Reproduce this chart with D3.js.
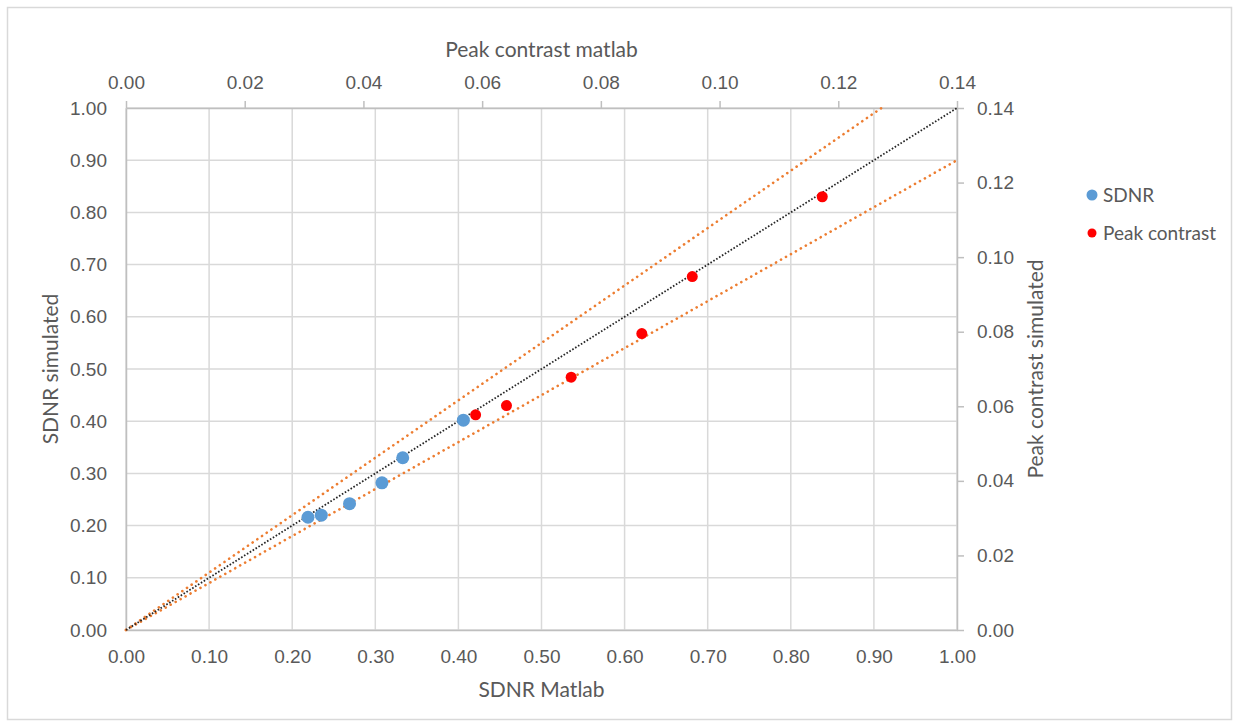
<!DOCTYPE html>
<html>
<head>
<meta charset="utf-8">
<script src="https://cdnjs.cloudflare.com/ajax/libs/d3/7.8.5/d3.min.js"></script>
<style>
    body { margin: 0; background: #fff; }
    svg { font-family: Lato, "Open Sans", sans-serif; }
    .tick text { fill: #595959; font-size: 19px; }
    .title { fill: #595959; font-size: 21px; }
    .legend text { fill: #595959; font-size: 19px; }
</style>
</head>
<body>
<div id="chart"></div>
<script>
// values
var sdnrMatlab    = [0.219, 0.235, 0.269, 0.308, 0.333, 0.406];
var sdnrSimulated = [0.216, 0.220, 0.242, 0.282, 0.330, 0.402];

var peakMatlab    = [0.0589, 0.0641, 0.0750, 0.0869, 0.0954, 0.1173];
var peakSimulated = [0.0577, 0.0602, 0.0678, 0.0795, 0.0948, 0.1162];

// identity line and the +/-10% band (slopes on the SDNR axes)
var identitySlope = [1];
var bandSlopes = [1.1, 0.9];

var primaryTicks = d3.range(0, 1.0001, 0.1);
var secondaryTicks = d3.range(0, 0.14001, 0.02);

var W = 1239, H = 727;
var margin = {top: 108, right: 282, bottom: 97, left: 126};
var width = W - margin.left - margin.right,
    height = H - margin.top - margin.bottom;

var svg = d3.select("#chart").append("svg")
    .attr("width", W)
    .attr("height", H);

// chart border
svg.append("rect")
    .attr("x", 7.5).attr("y", 7.5)
    .attr("width", W - 15).attr("height", H - 15)
    .attr("fill", "none")
    .attr("stroke", "#d9d9d9")
    .attr("stroke-width", 1.5);

var g = svg.append("g")
    .attr("transform", "translate(" + margin.left + "," + margin.top + ")");

var x = d3.scaleLinear().domain([0, 1]).range([0, width]);
var y = d3.scaleLinear().domain([0, 1]).range([height, 0]);
var x2 = d3.scaleLinear().domain([0, 0.14]).range([0, width]);
var y2 = d3.scaleLinear().domain([0, 0.14]).range([height, 0]);

// gridlines
g.append("g").selectAll("line")
    .data(primaryTicks)
    .enter().append("line")
    .attr("x1", function (d) { return x(d); })
    .attr("x2", function (d) { return x(d); })
    .attr("y1", 0).attr("y2", height)
    .attr("stroke", "#d9d9d9").attr("stroke-width", 1.5);

g.append("g").selectAll("line")
    .data(primaryTicks)
    .enter().append("line")
    .attr("y1", function (d) { return y(d); })
    .attr("y2", function (d) { return y(d); })
    .attr("x1", 0).attr("x2", width)
    .attr("stroke", "#d9d9d9").attr("stroke-width", 1.5);

function styleAxis(sel) {
    sel.select(".domain").attr("stroke", "#bfbfbf").attr("stroke-width", 1.5);
    sel.selectAll(".tick line").attr("stroke", "#bfbfbf").attr("stroke-width", 1.5);
}

var fmt = d3.format(".2f");

var gx = g.append("g")
    .attr("transform", "translate(0," + height + ")")
    .call(d3.axisBottom(x).tickValues(primaryTicks).tickFormat(fmt).tickSize(0));
gx.selectAll("text").attr("y", 26).attr("dy", "0.35em");
styleAxis(gx);

var gy = g.append("g")
    .call(d3.axisLeft(y).tickValues(primaryTicks).tickFormat(fmt).tickSize(0));
gy.selectAll("text").attr("x", -19);
styleAxis(gy);

var gx2 = g.append("g")
    .call(d3.axisTop(x2).tickValues(secondaryTicks).tickFormat(fmt).tickSize(7).tickSizeOuter(0));
gx2.selectAll("text").attr("y", -26).attr("dy", "0.35em");
styleAxis(gx2);

var gy2 = g.append("g")
    .attr("transform", "translate(" + width + ",0)")
    .call(d3.axisRight(y2).tickValues(secondaryTicks).tickFormat(fmt).tickSize(7).tickSizeOuter(0));
gy2.selectAll("text").attr("x", 20);
styleAxis(gy2);

svg.selectAll(".domain").raise();

// reference lines
function lineEnd(s) {
    var xe = Math.min(1, 1 / s);
    return [[0, 0], [xe, s * xe]];
}
var line = d3.line()
    .x(function (d) { return x(d[0]); })
    .y(function (d) { return y(d[1]); });

g.selectAll(".band")
    .data(bandSlopes)
    .enter().append("path")
    .attr("class", "band")
    .attr("d", function (s) { return line(lineEnd(s)); })
    .attr("fill", "none")
    .attr("stroke", "#ed7d31")
    .attr("stroke-width", 2.6)
    .attr("stroke-linecap", "round")
    .attr("stroke-dasharray", "0.1,5.6");

g.selectAll(".identity")
    .data(identitySlope)
    .enter().append("path")
    .attr("class", "identity")
    .attr("d", function (s) { return line(lineEnd(s)); })
    .attr("fill", "none")
    .attr("stroke", "#262626")
    .attr("stroke-width", 1.8)
    .attr("stroke-dasharray", "1.6,1.8");

// points
g.selectAll(".sdnr")
    .data(sdnrMatlab)
    .enter().append("circle")
    .attr("class", "sdnr")
    .attr("cx", function (d) { return x(d); })
    .attr("cy", function (d, i) { return y(sdnrSimulated[i]); })
    .attr("r", 6.5)
    .attr("fill", "#5b9bd5");

g.selectAll(".peak")
    .data(peakMatlab)
    .enter().append("circle")
    .attr("class", "peak")
    .attr("cx", function (d) { return x2(d); })
    .attr("cy", function (d, i) { return y2(peakSimulated[i]); })
    .attr("r", 5.5)
    .attr("fill", "#ff0000");

// axis titles
svg.append("text").attr("class", "title")
    .attr("x", margin.left + width / 2).attr("y", 690)
    .attr("dy", "0.35em").attr("text-anchor", "middle")
    .text("SDNR Matlab");

svg.append("text").attr("class", "title")
    .attr("x", margin.left + width / 2).attr("y", 50)
    .attr("dy", "0.35em").attr("text-anchor", "middle")
    .text("Peak contrast matlab");

svg.append("text").attr("class", "title")
    .attr("transform", "translate(51," + (margin.top + height / 2) + ") rotate(-90)")
    .attr("dy", "0.35em").attr("text-anchor", "middle")
    .text("SDNR simulated");

svg.append("text").attr("class", "title")
    .attr("transform", "translate(1036," + (margin.top + height / 2) + ") rotate(-90)")
    .attr("dy", "0.35em").attr("text-anchor", "middle")
    .text("Peak contrast simulated");

// legend
var legend = svg.append("g").attr("class", "legend");
var legendItems = [
    {name: "SDNR", color: "#5b9bd5", r: 5.5, y: 195},
    {name: "Peak contrast", color: "#ff0000", r: 4.5, y: 233}
];
var li = legend.selectAll("g")
    .data(legendItems)
    .enter().append("g")
    .attr("transform", function (d) { return "translate(1092," + d.y + ")"; });
li.append("circle")
    .attr("r", function (d) { return d.r; })
    .attr("fill", function (d) { return d.color; });
li.append("text")
    .attr("x", 11)
    .attr("dy", "0.35em")
    .text(function (d) { return d.name; });
</script>
</body>
</html>
